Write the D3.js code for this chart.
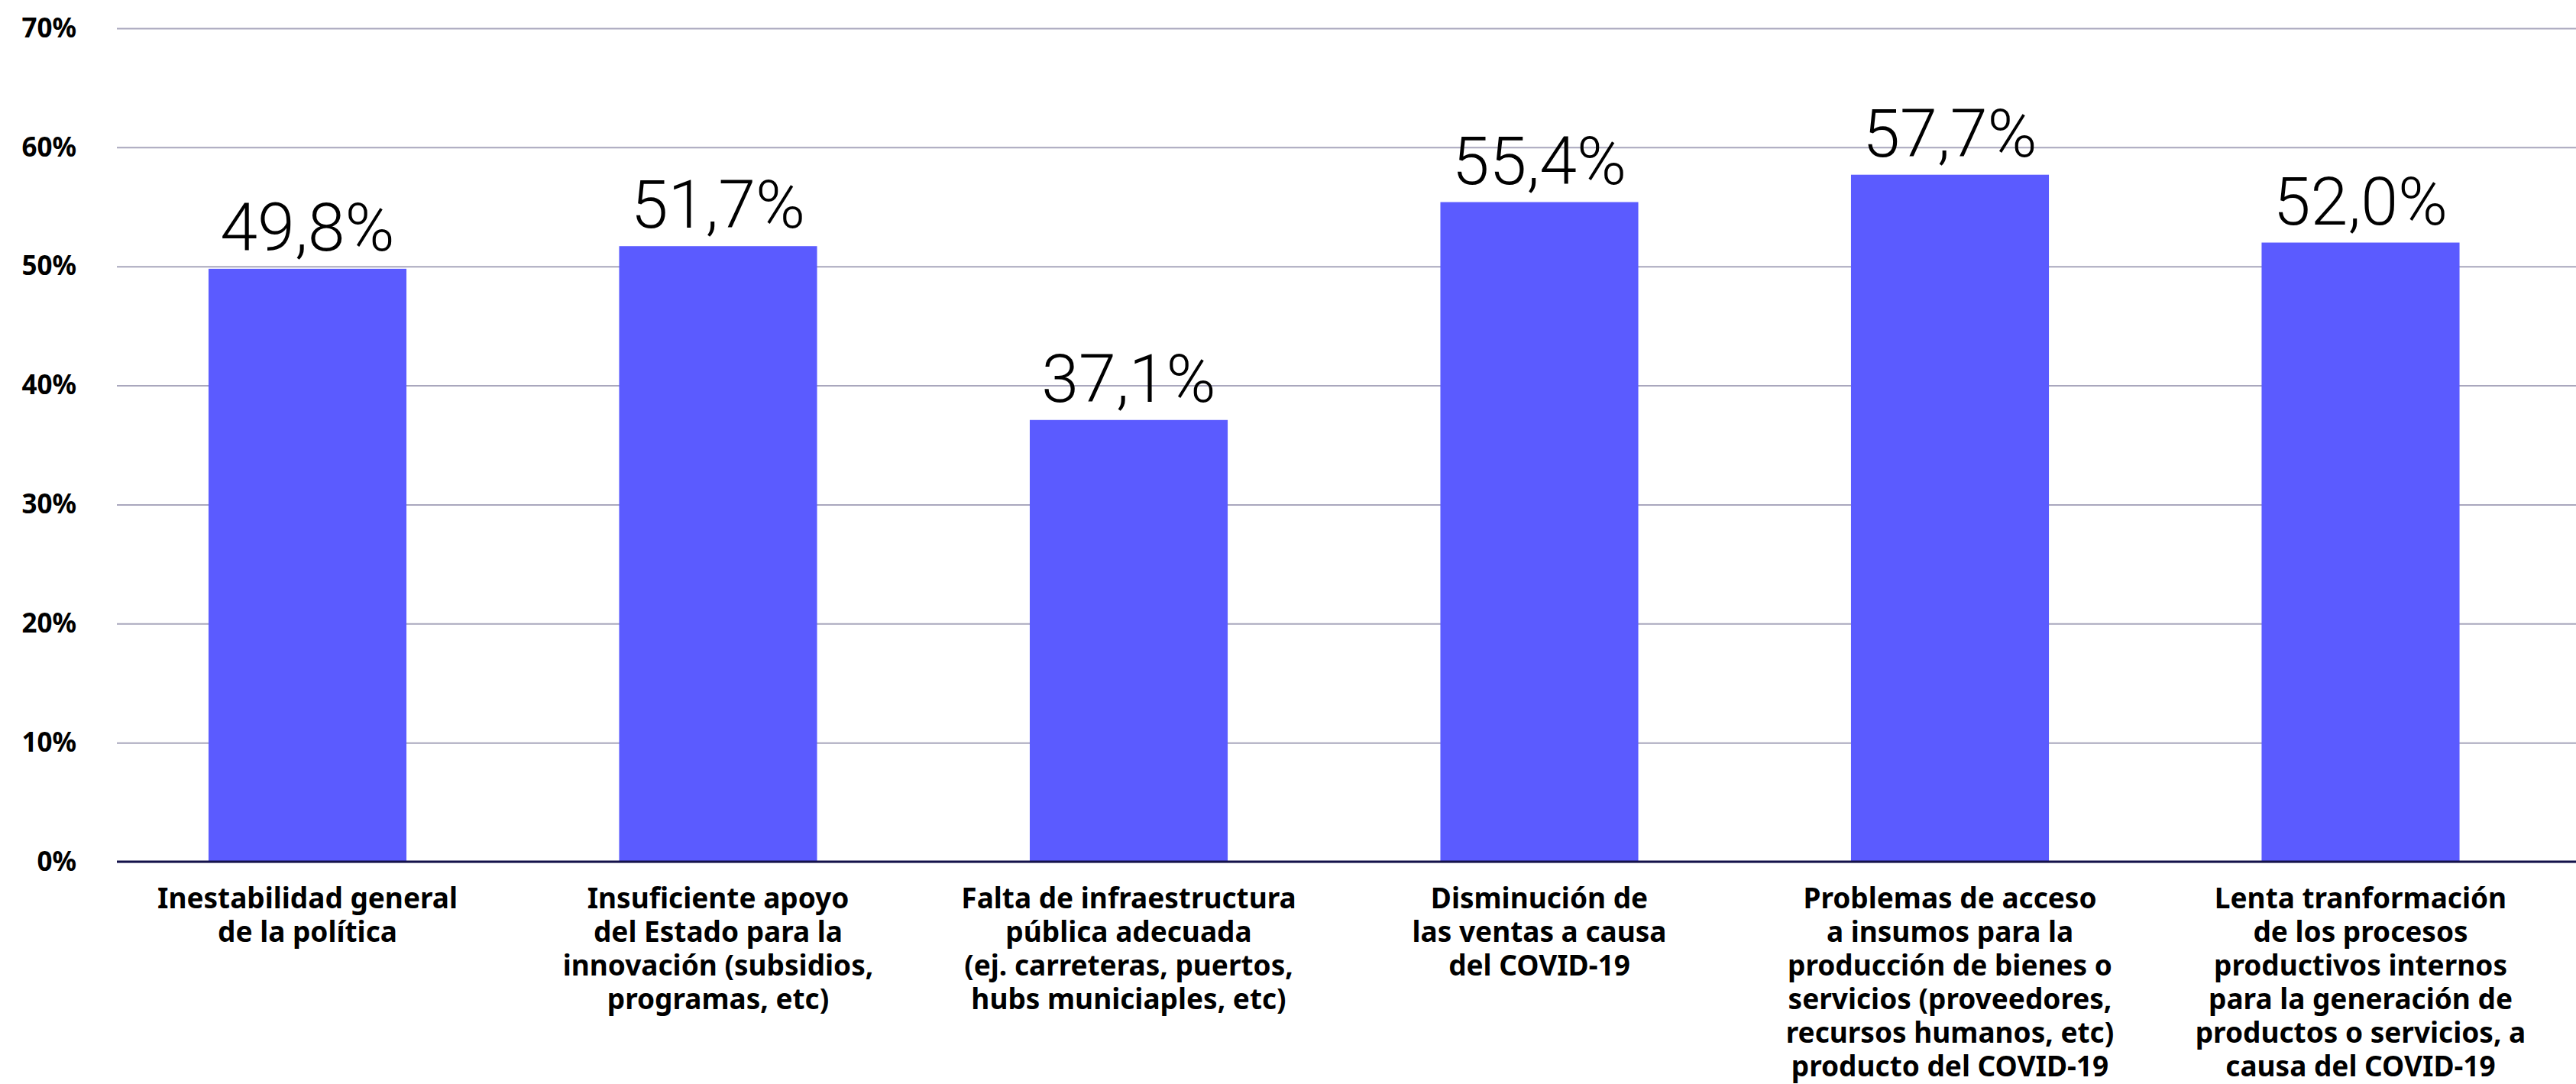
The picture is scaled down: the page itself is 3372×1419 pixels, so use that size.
<!DOCTYPE html>
<html>
<head>
<meta charset="utf-8">
<script src="https://cdn.jsdelivr.net/npm/d3@7"></script>
<style>
  body { margin: 0; background: #fff; }
  #chart { width: 3372px; height: 1419px; }
</style>
</head>
<body>
<div id="chart"></div>
<script>
// categories (one array of lines per bar)
const categories = [
    ["Inestabilidad general", "de la política"],
    ["Insuficiente apoyo", "del Estado para la", "innovación (subsidios,", "programas, etc)"],
    ["Falta de infraestructura", "pública adecuada", "(ej. carreteras, puertos,", "hubs municiaples, etc)"],
    ["Disminución de", "las ventas a causa", "del COVID-19"],
    ["Problemas de acceso", "a insumos para la", "producción de bienes o", "servicios (proveedores,", "recursos humanos, etc)", "producto del COVID-19"],
    ["Lenta tranformación", "de los procesos", "productivos internos", "para la generación de", "productos o servicios, a", "causa del COVID-19"]
];
const values = [49.8, 51.7, 37.1, 55.4, 57.7, 52.0];
const yTicks = [0, 10, 20, 30, 40, 50, 60, 70];

const width = 3372, height = 1419;
const margin = {top: 37, left: 153, bottom: 1128};

const svg = d3.select("#chart")
    .append("svg")
    .attr("width", width)
    .attr("height", height);

// scales
const x = d3.scaleBand()
    .domain(d3.range(values.length))
    .range([133.75, 3358.75])
    .paddingInner(0.518)
    .paddingOuter(0.259);

const y = d3.scaleLinear()
    .domain([0, 70])
    .range([margin.bottom, margin.top]);

// gridlines + tick labels
const yAxis = svg.append("g")
    .attr("transform", `translate(${margin.left},0)`)
    .call(d3.axisLeft(y)
        .tickValues(yTicks)
        .tickSize(-(width - margin.left))
        .tickPadding(53)
        .tickFormat(d => d + "%"));
yAxis.select(".domain").remove();
yAxis.selectAll(".tick line")
    .attr("stroke", "#a9a7bd")
    .attr("stroke-width", 2);
yAxis.selectAll(".tick text")
    .attr("font-family", "'Noto Sans', sans-serif")
    .attr("font-weight", 700)
    .attr("font-size", 35)
    .attr("fill", "#000");

// bars
svg.append("g")
    .selectAll("rect")
    .data(values)
    .join("rect")
    .attr("x", (d, i) => x(i))
    .attr("y", d => y(d))
    .attr("width", x.bandwidth())
    .attr("height", d => y(0) - y(d))
    .attr("fill", "#5b5bff");

// baseline
svg.append("line")
    .attr("x1", margin.left)
    .attr("x2", width)
    .attr("y1", y(0))
    .attr("y2", y(0))
    .attr("stroke", "#14124a")
    .attr("stroke-width", 3);

// value labels
svg.append("g")
    .selectAll("text")
    .data(values)
    .join("text")
    .attr("x", (d, i) => x(i) + x.bandwidth() / 2)
    .attr("y", d => y(d) - 24)
    .attr("text-anchor", "middle")
    .attr("font-family", "Roboto, sans-serif")
    .attr("font-weight", 300)
    .attr("font-size", 88)
    .attr("fill", "#000")
    .text(d => d.toFixed(1).replace(".", ",") + "%");

// category labels
const labels = svg.append("g")
    .selectAll("text")
    .data(categories)
    .join("text")
    .attr("x", (d, i) => x(i) + x.bandwidth() / 2)
    .attr("y", 1189)
    .attr("text-anchor", "middle")
    .attr("font-family", "'Noto Sans', sans-serif")
    .attr("font-weight", 700)
    .attr("font-size", 37)
    .attr("fill", "#000");

labels.selectAll("tspan")
    .data(d => d)
    .join("tspan")
    .attr("x", function() { return this.parentNode.getAttribute("x"); })
    .attr("dy", (d, i) => i === 0 ? 0 : 44)
    .text(d => d);
</script>
</body>
</html>
